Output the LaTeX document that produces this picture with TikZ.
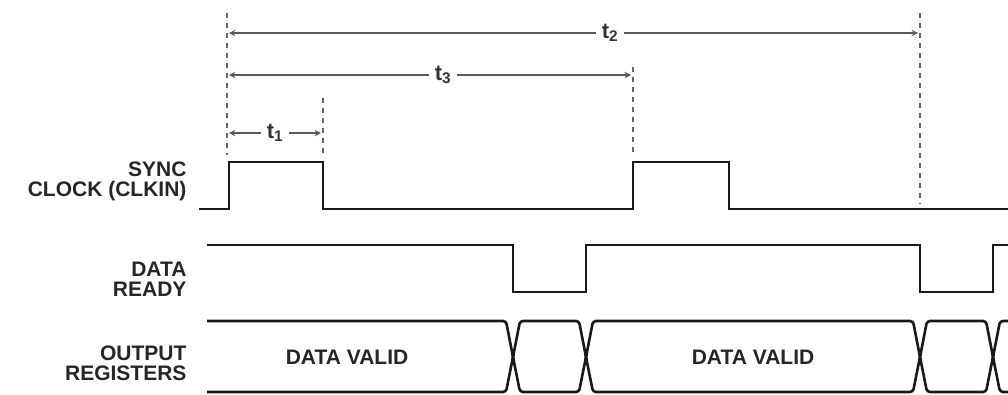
\documentclass[tikz,border=0pt]{standalone}
\usepackage{fontspec}
\setmainfont{Liberation Sans}

\begin{document}
\begin{tikzpicture}[x=1pt, y=-1pt, >=stealth,
  sig/.style={line width=2.6pt, black!90},
  guide/.style={black!60, line width=1.2pt, dash pattern=on 5pt off 5pt},
  dim/.style={->, line width=1.8pt, black!65},
  lbl/.style={font=\fontsize{21}{20}\selectfont\bfseries, align=right, anchor=east, text=black!85},
  tlab/.style={font=\fontsize{22}{20}\selectfont\bfseries, inner xsep=6pt, inner ysep=1pt, text=black!80}]

\useasboundingbox (0,0) rectangle (1008,394);

% Parameters
\def\ctop{321}
\def\cmid{357}
\def\cbot{392}
\def\w{7}

% Guide lines
\coordinate (A0) at (227,13);  \coordinate (A1) at (227,155);
\coordinate (B0) at (323,98);  \coordinate (B1) at (323,155);
\coordinate (C0) at (633,67);  \coordinate (C1) at (633,152);
\coordinate (D0) at (920,13);  \coordinate (D1) at (920,204);
\draw[guide] (A0) -- (A1);
\draw[guide] (B0) -- (B1);
\draw[guide] (C0) -- (C1);
\draw[guide] (D0) -- (D1);

% Time intervals
\node[tlab] (t2) at (610,33) {t\textsubscript{2}};
\coordinate (t2l) at (229,33); \coordinate (t2r) at (918,33);
\draw[dim] (t2.west) -- (t2l);
\draw[dim] (t2.east) -- (t2r);

\node[tlab] (t3) at (443,75) {t\textsubscript{3}};
\coordinate (t3l) at (229,75); \coordinate (t3r) at (631,75);
\draw[dim] (t3.west) -- (t3l);
\draw[dim] (t3.east) -- (t3r);

\node[tlab] (t1) at (275,133) {t\textsubscript{1}};
\coordinate (t1l) at (229,133); \coordinate (t1r) at (321,133);
\draw[dim] (t1.west) -- (t1l);
\draw[dim] (t1.east) -- (t1r);

% Signal names
\node[lbl] (sync) at (190,181) {SYNC\\CLOCK (CLKIN)};
\node[lbl] (drdy) at (190,279) {DATA\\READY};
\node[lbl] (oreg) at (190,363) {OUTPUT\\REGISTERS};

% Sync clock
\draw[sig] (199,209) -- (229,209) -- (229,162) -- (323,162) -- (323,209)
  -- (633,209) -- (633,162) -- (729,162) -- (729,209) -- (1008,209);

% Data ready
\draw[sig] (207,245) -- (513,245) -- (513,292) -- (586,292) -- (586,245)
  -- (920,245) -- (920,292) -- (993,292) -- (993,245) -- (1008,245);

% Output registers
\begin{scope}[rounded corners=3pt]
\draw[sig] (207,\ctop) -- (513-\w,\ctop) -- (513,\cmid)
  -- (513-\w,\cbot) -- (207,\cbot);
\foreach \a/\b in {513/586, 586/920, 920/993}
  \draw[sig] (\a,\cmid) -- (\a+\w,\ctop) -- (\b-\w,\ctop) -- (\b,\cmid)
    -- (\b-\w,\cbot) -- (\a+\w,\cbot) -- cycle;
\draw[sig] (1008,\ctop) -- (993+\w,\ctop) -- (993,\cmid)
  -- (993+\w,\cbot) -- (1008,\cbot);
\end{scope}

\node[lbl, anchor=center, align=center] (valid1) at (347,357) {DATA VALID};
\node[lbl, anchor=center, align=center] (valid2) at (753,357) {DATA VALID};

\end{tikzpicture}
\end{document}
